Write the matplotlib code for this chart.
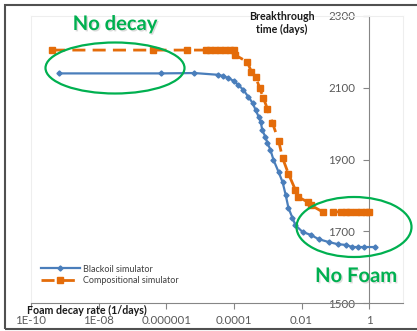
import numpy as np
import matplotlib
matplotlib.use("Agg")
import matplotlib.pyplot as plt
from matplotlib.patches import Ellipse, Rectangle
from matplotlib import patheffects as pe

# foam decay rate (1/days) and breakthrough time (days)
blackoil_rate = [6.8e-10, 7.1e-07, 6.8e-06, 3.5e-05, 4.6e-05, 6.9e-05, 9.8e-05,
                 1.35e-04, 1.9e-04, 2.7e-04, 3.55e-04, 4.4e-04, 5.4e-04, 6.2e-04,
                 6.9e-04, 8.5e-04, 9.8e-04, 1.2e-03, 1.48e-03, 2.1e-03, 2.75e-03,
                 3.4e-03, 4.1e-03, 5.4e-03, 6.6e-03, 1.07e-02, 1.86e-02, 3.2e-02,
                 6.3e-02, 0.117, 0.2, 0.32, 0.46, 0.69, 1.45]
blackoil_time = [2140, 2140, 2141, 2136, 2133, 2127, 2119, 2108, 2094, 2074,
                 2058, 2038, 2019, 2005, 1982, 1963, 1946, 1927, 1899, 1865,
                 1837, 1801, 1765, 1737, 1717, 1698, 1690, 1678, 1670, 1664,
                 1662, 1656, 1656, 1656, 1656]

comp_rate = [4.2e-10, 4.1e-07, 4.2e-06, 1.45e-05, 2.0e-05, 2.8e-05, 4.0e-05,
             5.6e-05, 7.9e-05, 9.8e-05, 1.1e-04, 2.5e-04, 3.3e-04, 4.4e-04,
             5.8e-04, 7.4e-04, 9.8e-04, 1.38e-03, 2.1e-03, 2.75e-03, 4.1e-03,
             6.6e-03, 8.1e-03, 1.5e-02, 1.86e-02, 4.2e-02, 8.3e-02, 0.145,
             0.2, 0.28, 0.40, 0.56, 0.79, 1.0]
comp_time = [2205, 2205, 2205, 2205, 2205, 2205, 2205, 2205, 2205, 2205,
             2191, 2172, 2144, 2130, 2099, 2072, 2041, 2002, 1952, 1904,
             1860, 1815, 1795, 1782, 1773, 1754, 1754, 1754, 1754, 1754,
             1754, 1754, 1754, 1754]

xticks = [1e-10, 1e-8, 1e-6, 1e-4, 1e-2, 1]
xtick_labels = ["1E-10", "1E-08", "0.000001", "0.0001", "0.01", "1"]
yticks = [1500, 1700, 1900, 2100, 2300]

W, H = 417, 331
plt.rcParams["font.family"] = ["Lato", "DejaVu Sans"]

fig = plt.figure(figsize=(W / 100, H / 100), dpi=100)
fig.patch.set_facecolor("white")


def fx(x):
    return x / W


def fy(y):
    return 1 - y / H


ax = fig.add_axes([fx(31), fy(303), (403 - 31) / W, (303 - 16) / H])
ax.set_xscale("log")
ax.set_xlim(1e-10, 10)
ax.set_ylim(1500, 2300)

ax.plot(blackoil_rate, blackoil_time, color="#4A7EBB", lw=1.6,
        marker="D", ms=2.6, label="Blackoil simulator", zorder=4)
ax.plot(comp_rate, comp_time, color="#E46C0A", lw=2.0, ls=(0, (4.7, 2.6)),
        marker="s", ms=4.0, label="Compositional simulator", zorder=3)

# value axis crosses at x = 1, category axis at 1500
for side in ["top", "right"]:
    ax.spines[side].set_color("#EEEEEE")
ax.spines["left"].set_position(("data", 1))
ax.spines["left"].set_color("#868686")
ax.spines["bottom"].set_color("#868686")
ax.plot([0, 0], [0, 1], transform=ax.transAxes, color="#EEEEEE", lw=0.8,
        clip_on=False, zorder=0)

ax.set_xticks(xticks)
ax.set_xticklabels(xtick_labels)
ax.xaxis.set_minor_locator(matplotlib.ticker.NullLocator())
ax.set_yticks(yticks)
ax.tick_params(axis="both", colors="#868686", labelcolor="#595959",
               labelsize=8.3, length=4, width=0.8)
ax.tick_params(axis="x", pad=5)
ax.tick_params(axis="y", pad=6)

leg = ax.legend(loc="upper left", frameon=False, fontsize=6.5,
                handlelength=4.4, handletextpad=0.3, labelspacing=0.3,
                borderpad=0)
leg.set_bbox_to_anchor((fx(36), fy(260)), transform=fig.transFigure)
for t in leg.get_texts():
    t.set_color("#404040")

fig.text(fx(27), fy(310), "Foam decay rate (1/days)", fontsize=7.7,
         fontweight="bold", ha="left", va="center", color="#1A1A1A")
fig.text(fx(282), fy(23), "Breakthrough\ntime (days)", fontsize=7.7,
         fontweight="bold", ha="center", va="center", color="#1A1A1A",
         linespacing=1.3)

# callouts
green = "#00B050"
shadow = [pe.withSimplePatchShadow(offset=(1, -1), shadow_rgbFace="#999999",
                                   alpha=0.35)]
fig.text(fx(115), fy(24), "No decay", fontsize=14.5, fontweight="bold",
         color=green, ha="center", va="center", path_effects=shadow)
fig.text(fx(356), fy(276), "No Foam", fontsize=14.5, fontweight="bold",
         color=green, ha="center", va="center", path_effects=shadow)
fig.add_artist(Ellipse((fx(115), fy(68)), 139 / W, 51 / H,
                       transform=fig.transFigure, fill=False,
                       edgecolor=green, lw=1.6, zorder=5))
fig.add_artist(Ellipse((fx(354), fy(227)), 115 / W, 60 / H,
                       transform=fig.transFigure, fill=False,
                       edgecolor=green, lw=1.6, zorder=5))

# chart frame
fig.add_artist(Rectangle((fx(5), fy(329)), (425 - 5) / W, (329 - 5) / H,
                         transform=fig.transFigure, fill=False,
                         edgecolor="#505050", lw=1.5, clip_on=False))

fig.savefig("out.png", dpi=100)
